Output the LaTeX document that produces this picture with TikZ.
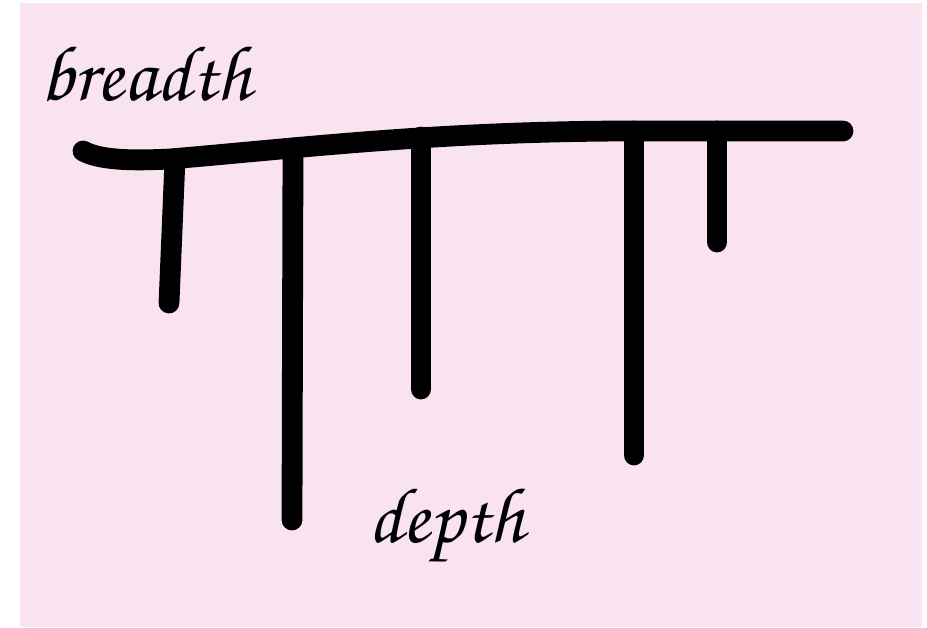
\documentclass[tikz,border=0pt]{standalone}
\definecolor{paper}{RGB}{249,227,240}
\newcommand{\hand}{\usefont{OT1}{pzc}{mb}{it}}
\tikzset{brush/.style={line width=0.52cm, line cap=round, black}}
\begin{document}
\begin{tikzpicture}[x=0.025cm, y=-0.025cm]
  \useasboundingbox (0,0) rectangle (927,627);
  \fill[paper] (20,3) rectangle (922,627);
  \node[anchor=base west, inner sep=0] (breadth) at (40,100) {\hand\fontsize{56}{60}\selectfont breadth};
  \node[anchor=base west, inner sep=0] (depth) at (368,542) {\hand\fontsize{56}{60}\selectfont depth};
  % the bar along the top
  \draw[brush] (83,151) .. controls (100,160) and (130,161) .. (170,159) .. controls (300,148) and (430,132) .. (620,131) -- (843,131);
  % the stems hanging from it
  \foreach \n/\xt/\yt/\xb/\yb in {1/175/159/169/303, 2/293/148/292/520, 3/421/137/421/389, 4/634/131/634/455, 5/717/131/717/242}{
    \coordinate (top\n) at (\xt,\yt);
    \coordinate (end\n) at (\xb,\yb);
    \draw[brush] (top\n) -- (end\n);
  }
\end{tikzpicture}
\end{document}
